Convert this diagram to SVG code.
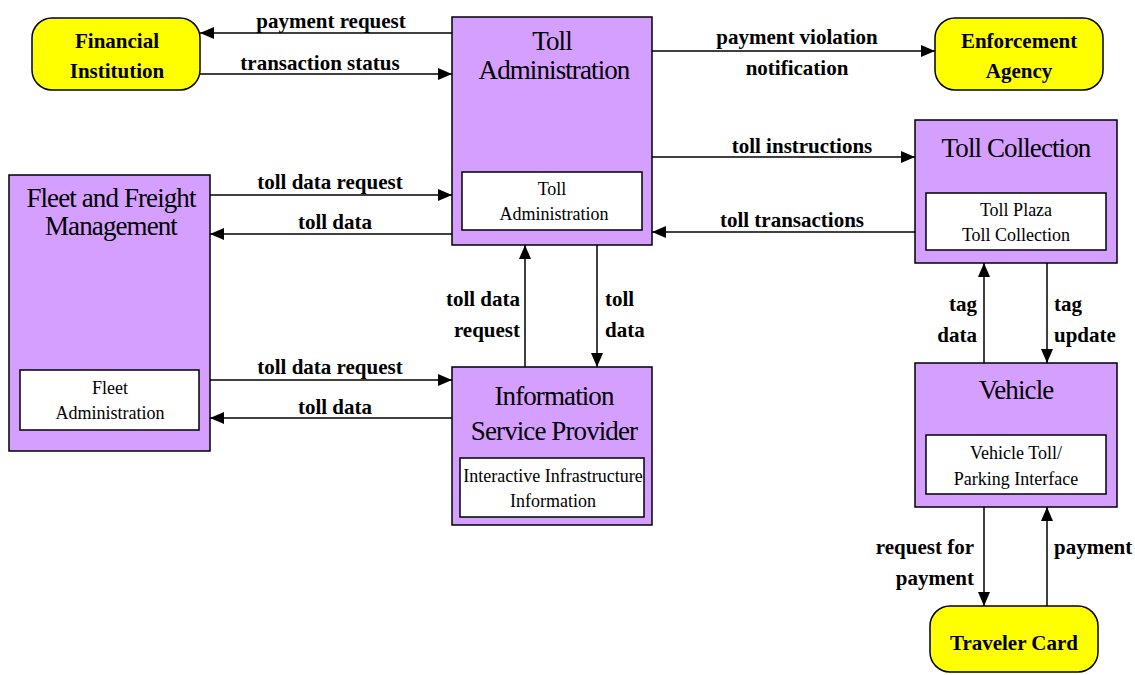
<svg xmlns="http://www.w3.org/2000/svg" width="1135" height="675" viewBox="0 0 1135 675">
<defs>
<marker id="ah" markerUnits="userSpaceOnUse" markerWidth="14" markerHeight="12" refX="14" refY="6" orient="auto">
<path d="M0,0 L14,6 L0,12 z" fill="#000"/>
</marker>
<style>
.box{fill:#D59FFF;stroke:#000;stroke-width:1.5}
.inner{fill:#fff;stroke:#000;stroke-width:1.5}
.term{fill:#FFFF00;stroke:#000;stroke-width:1.5}
.title{font-family:"Liberation Serif",serif;font-size:27px;letter-spacing:-0.9px;text-anchor:middle;fill:#000}
.it{font-family:"Liberation Serif",serif;font-size:18px;text-anchor:middle;fill:#000}
.tt{font-family:"Liberation Serif",serif;font-size:21px;font-weight:bold;text-anchor:middle;fill:#000}
.lbl{font-family:"Liberation Serif",serif;font-size:21px;font-weight:bold;fill:#000}
.c{stroke:#000;stroke-width:1.5;fill:none;marker-end:url(#ah)}
</style>
</defs>
<rect width="1135" height="675" fill="#fff"/>

<g id="financial-institution">
<rect class="term" x="32" y="18" width="168" height="72" rx="20"/>
<text class="tt" x="117" y="48">Financial</text>
<text class="tt" x="117" y="78">Institution</text>
</g>

<g id="toll-administration">
<rect class="box" x="452" y="17" width="200" height="228"/>
<text class="title" x="552" y="50">Toll</text>
<text class="title" x="554" y="79">Administration</text>
<rect class="inner" x="462" y="172" width="180" height="58"/>
<text class="it" x="552" y="195">Toll</text>
<text class="it" x="554" y="220">Administration</text>
</g>

<g id="enforcement-agency">
<rect class="term" x="935" y="18" width="168" height="72" rx="20"/>
<text class="tt" x="1019" y="48">Enforcement</text>
<text class="tt" x="1019" y="78">Agency</text>
</g>

<g id="toll-collection">
<rect class="box" x="915" y="120" width="202" height="143"/>
<text class="title" x="1016" y="157">Toll Collection</text>
<rect class="inner" x="926" y="193" width="180" height="57"/>
<text class="it" x="1016" y="216">Toll Plaza</text>
<text class="it" x="1016" y="241">Toll Collection</text>
</g>

<g id="fleet-freight-management">
<rect class="box" x="9" y="175" width="201" height="276"/>
<text class="title" x="111" y="207">Fleet and Freight</text>
<text class="title" x="111" y="235">Management</text>
<rect class="inner" x="20" y="370" width="179" height="60"/>
<text class="it" x="110" y="394">Fleet</text>
<text class="it" x="110" y="419">Administration</text>
</g>

<g id="information-service-provider">
<rect class="box" x="452" y="367" width="200" height="158"/>
<text class="title" x="554" y="405">Information</text>
<text class="title" x="554" y="440">Service Provider</text>
<rect class="inner" x="460" y="458" width="184" height="59"/>
<text class="it" x="553" y="482">Interactive Infrastructure</text>
<text class="it" x="553" y="507">Information</text>
</g>

<g id="vehicle">
<rect class="box" x="915" y="363" width="202" height="144"/>
<text class="title" x="1016" y="399">Vehicle</text>
<rect class="inner" x="926" y="435" width="180" height="59"/>
<text class="it" x="1016" y="459">Vehicle Toll/</text>
<text class="it" x="1016" y="485">Parking Interface</text>
</g>

<g id="traveler-card">
<rect class="term" x="930" y="606" width="168" height="66" rx="20"/>
<text class="tt" x="1014" y="650">Traveler Card</text>
</g>

<g id="connectors">
<line class="c" x1="452" y1="33" x2="200" y2="33"/>
<line class="c" x1="200" y1="74" x2="452" y2="74"/>
<line class="c" x1="652" y1="51" x2="935" y2="51"/>
<line class="c" x1="652" y1="157" x2="915" y2="157"/>
<line class="c" x1="915" y1="232" x2="652" y2="232"/>
<line class="c" x1="210" y1="195" x2="452" y2="195"/>
<line class="c" x1="452" y1="234" x2="210" y2="234"/>
<line class="c" x1="210" y1="380" x2="452" y2="380"/>
<line class="c" x1="452" y1="418" x2="210" y2="418"/>
<line class="c" x1="525" y1="367" x2="525" y2="245"/>
<line class="c" x1="597" y1="245" x2="597" y2="367"/>
<line class="c" x1="984" y1="363" x2="984" y2="263"/>
<line class="c" x1="1047" y1="263" x2="1047" y2="363"/>
<line class="c" x1="984" y1="507" x2="984" y2="606"/>
<line class="c" x1="1047" y1="606" x2="1047" y2="507"/>

<g id="connector-labels">
<text class="tt" x="331" y="28">payment request</text>
<text class="tt" x="320" y="70">transaction status</text>
<text class="tt" x="797" y="44">payment violation</text>
<text class="tt" x="797" y="75">notification</text>
<text class="tt" x="802" y="153">toll instructions</text>
<text class="tt" x="792" y="227">toll transactions</text>
<text class="tt" x="330" y="189">toll data request</text>
<text class="tt" x="335" y="229">toll data</text>
<text class="tt" x="330" y="374">toll data request</text>
<text class="tt" x="335" y="414">toll data</text>
<text class="lbl" x="520" y="306" text-anchor="end">toll data</text>
<text class="lbl" x="520" y="337" text-anchor="end">request</text>
<text class="lbl" x="605" y="306">toll</text>
<text class="lbl" x="605" y="337">data</text>
<text class="lbl" x="977" y="311" text-anchor="end">tag</text>
<text class="lbl" x="977" y="342" text-anchor="end">data</text>
<text class="lbl" x="1054" y="311">tag</text>
<text class="lbl" x="1054" y="342">update</text>
<text class="lbl" x="974" y="554" text-anchor="end">request for</text>
<text class="lbl" x="974" y="585" text-anchor="end">payment</text>
<text class="lbl" x="1054" y="554">payment</text>
</g>
</g>
</svg>
